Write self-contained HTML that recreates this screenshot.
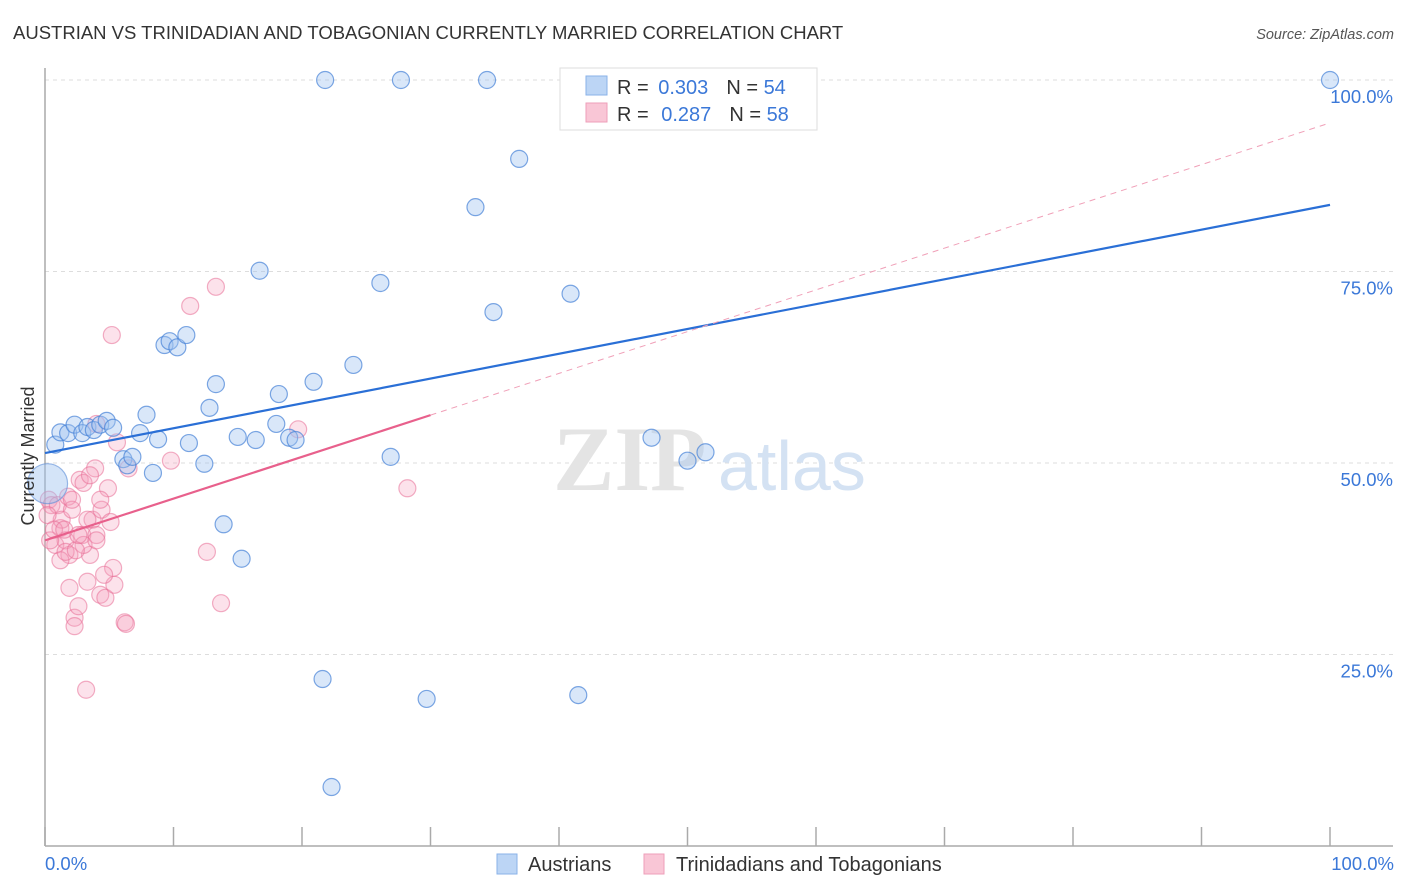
<!DOCTYPE html>
<html><head><meta charset="utf-8"><style>
body{margin:0;background:#fff;font-family:"Liberation Sans",sans-serif;}
svg{display:block}
</style></head><body>
<svg id="chart" width="1406" height="892" xmlns="http://www.w3.org/2000/svg">
<text x="13" y="39" font-size="18.5" fill="#333">AUSTRIAN VS TRINIDADIAN AND TOBAGONIAN CURRENTLY MARRIED CORRELATION CHART</text>
<text x="1394" y="39" font-size="14.5" fill="#555" font-style="italic" text-anchor="end">Source: ZipAtlas.com</text>
<g id="grid"></g>
<g><text x="553" y="490" font-size="92" font-family="Liberation Serif,serif" fill="#e4e4e4" font-weight="bold">ZIP</text><text x="718" y="490" font-size="70" fill="#d4e2f3">atlas</text></g>
<g id="axes"></g>
<g id="pts"></g>
<g id="lines"></g>
<text x="34" y="456" font-size="18" fill="#333" text-anchor="middle" transform="rotate(-90 34 456)">Currently Married</text>
<text x="45" y="870" font-size="18.5" fill="#3b78d8">0.0%</text>
<text x="1394" y="870" font-size="18.5" fill="#3b78d8" text-anchor="end">100.0%</text>
<g>
<rect x="560" y="68" width="257" height="62" fill="#fff" stroke="#ddd"/>
<rect x="586" y="76" width="21" height="19" fill="#bcd5f5" stroke="#8ab2e8"/>
<rect x="586" y="103" width="21" height="19" fill="#f9c6d6" stroke="#ee9fb9"/>
<text x="617" y="94" font-size="20" fill="#333">R = <tspan fill="#3b78d8" dx="4">0.303</tspan><tspan dx="18">N = </tspan><tspan fill="#3b78d8">54</tspan></text>
<text x="617" y="121" font-size="20" fill="#333">R = <tspan fill="#3b78d8" dx="7">0.287</tspan><tspan dx="18">N = </tspan><tspan fill="#3b78d8">58</tspan></text>
</g>
<g>
<rect x="497" y="854" width="20" height="20" fill="#bcd5f5" stroke="#8ab2e8"/>
<text x="528" y="871" font-size="20" fill="#333">Austrians</text>
<rect x="644" y="854" width="20" height="20" fill="#f9c6d6" stroke="#ee9fb9"/>
<text x="676" y="871" font-size="20" fill="#333">Trinidadians and Tobagonians</text>
</g>
</svg>
<script>
const blueX=[0.8,1.2,1.8,2.3,2.9,3.3,3.8,4.3,4.8,5.3,6.1,6.4,6.8,7.4,7.9,8.4,8.8,9.3,9.7,10.3,11.0,11.2,12.4,12.8,13.3,13.9,15.0,15.3,16.4,16.7,18.0,18.2,19.0,19.5,20.9,21.6,21.8,22.3,24.0,26.1,26.9,27.7,29.7,33.5,34.4,34.9,36.9,40.9,41.5,47.2,50.0,51.4,100];
const blueY=[52.4,54.0,53.9,55.0,53.9,54.7,54.3,55.0,55.5,54.6,50.5,49.7,50.8,53.9,56.3,48.7,53.1,65.4,65.9,65.1,66.7,52.6,49.9,57.2,60.3,42.0,53.4,37.5,53.0,75.1,55.1,59.0,53.3,53.0,60.6,21.8,100,7.7,62.8,73.5,50.8,100,19.2,83.4,100,69.7,89.7,72.1,19.7,53.3,50.3,51.4,100];
const pinkX=[0.3,0.5,0.8,1.0,1.2,1.3,1.6,1.8,1.9,2.1,1.9,2.3,2.3,2.6,2.7,2.9,3.0,3.2,3.3,3.5,3.7,3.9,4.0,4.3,4.4,4.7,4.9,5.1,5.2,5.3,5.4,5.6,6.2,6.5,4.0,9.8,11.3,12.6,13.3,13.7,19.7,28.2,3.0,1.2,1.6,2.4,0.4,0.2,0.7,4.3,3.3,2.1,1.5,2.6,3.5,4.0,4.6,6.3];
const pinkY=[45.2,44.5,39.3,44.5,41.5,42.6,39.9,45.6,38.0,43.9,33.7,29.8,28.7,31.3,47.8,40.6,47.4,20.4,34.5,38.0,42.6,49.3,40.6,32.8,43.9,32.4,46.7,42.3,66.7,36.3,34.1,52.7,29.2,49.3,55.1,50.3,70.5,38.4,73.0,31.7,54.4,46.7,39.3,37.3,38.4,38.6,39.9,43.2,41.3,45.2,42.6,45.2,41.3,40.6,48.4,39.9,35.4,29.0];
const yTicks=[25,50,75,100];
const yTickLabels=["25.0%","50.0%","75.0%","100.0%"];
const blueTrend=[51.3,83.7];
const pinkTrend=[39.9,94.4];
const pinkSolidEnd=30;
const bigPoint=[0.2,47.3];

const NS="http://www.w3.org/2000/svg";
const sx=v=>45+v*12.85, sy=v=>846-v*7.66;
function mk(tag,attrs,parent){const e=document.createElementNS(NS,tag);for(const k in attrs)e.setAttribute(k,attrs[k]);parent.appendChild(e);return e;}
const grid=document.getElementById('grid'),axes=document.getElementById('axes'),pts=document.getElementById('pts'),lines=document.getElementById('lines');
yTicks.forEach((t,i)=>{
  const l=mk('line',{x1:45,x2:1393,y1:sy(t),y2:sy(t),stroke:'#ddd','stroke-dasharray':'4,4'},grid);
  
  
  const tx=mk('text',{x:1393,y:sy(t)+23,'font-size':18.5,fill:'#3b78d8','text-anchor':'end'},grid);
  tx.textContent=yTickLabels[i];
  
  
});
mk('line',{x1:45,x2:45,y1:68,y2:846,stroke:'#aaa','stroke-width':1.5},axes);
mk('line',{x1:45,x2:1393,y1:846,y2:846,stroke:'#aaa','stroke-width':1.5},axes);
for(let i=0;i<=10;i++){const t=mk('line',{x1:sx(i*10),x2:sx(i*10),y1:827,y2:846,stroke:'#aaa','stroke-width':1.5},axes);
  
  }
pinkX.forEach((x,i)=>{const c=mk('circle',{cx:sx(x),cy:sy(pinkY[i]),r:8.5,fill:'rgba(244,160,188,0.3)',stroke:'rgba(232,110,150,0.55)','stroke-width':1.2},pts);
  
  });
const bp=mk('circle',{cx:sx(bigPoint[0]),cy:sy(bigPoint[1]),r:20,fill:'rgba(160,195,240,0.45)',stroke:'rgba(90,140,215,0.6)','stroke-width':1.2},pts);


blueX.forEach((x,i)=>{const c=mk('circle',{cx:sx(x),cy:sy(blueY[i]),r:8.5,fill:'rgba(160,195,240,0.4)',stroke:'rgba(70,130,215,0.7)','stroke-width':1.2},pts);
  
  });
const bl=mk('line',{x1:sx(0),y1:sy(blueTrend[0]),x2:sx(100),y2:sy(blueTrend[1]),stroke:'#2a6fd6','stroke-width':2.2},lines);


const pAt=x=>pinkTrend[0]+(pinkTrend[1]-pinkTrend[0])*x/100;
const pd=mk('line',{x1:sx(pinkSolidEnd),y1:sy(pAt(pinkSolidEnd)),x2:sx(100),y2:sy(pinkTrend[1]),stroke:'#f0a0b8','stroke-width':1,'stroke-dasharray':'6,5'},lines);


const pl=mk('line',{x1:sx(0),y1:sy(pinkTrend[0]),x2:sx(pinkSolidEnd),y2:sy(pAt(pinkSolidEnd)),stroke:'#e8608c','stroke-width':2.2},lines);


</script>
</body></html>
